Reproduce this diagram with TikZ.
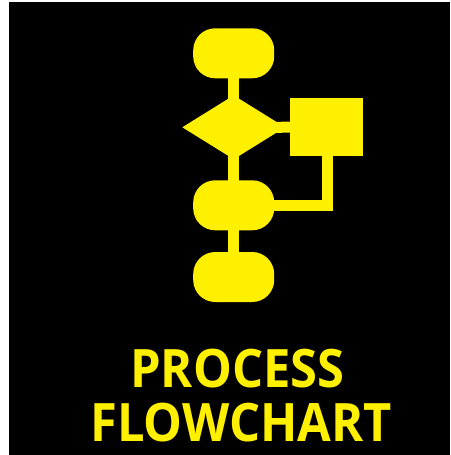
\documentclass[tikz,border=0pt]{standalone}
\usepackage{fontspec}
\setmainfont{Open Sans}
\newfontfamily\titlefont[FakeStretch=0.922]{Open Sans}
\usetikzlibrary{positioning,shapes.geometric}
\definecolor{chartyellow}{RGB}{255,240,0}
\tikzset{
  terminal/.style={fill=chartyellow,rounded corners=22pt,minimum width=81pt,minimum height=50pt,inner sep=0pt},
  decision/.style={fill=chartyellow,diamond,aspect=1.6,minimum width=103pt,minimum height=64pt,inner sep=0pt},
  procbox/.style={fill=chartyellow,minimum width=73.5pt,minimum height=58pt,inner sep=0pt},
  link/.style={draw=chartyellow,line width=11pt},
  title/.style={text=chartyellow,font=\titlefont\bfseries\fontsize{53}{57}\selectfont,inner sep=0pt,anchor=base}
}
\begin{document}
\begin{tikzpicture}[x=1pt,y=1pt]
  \useasboundingbox (0,0) rectangle (450,-455);
  \fill[white] (0,0) rectangle (450,-455);
  \fill[black] (9,-2) rectangle (450,-455);
  \node[terminal] (start) at (233.7,-53.3) {};
  \node[decision] (check) at (233.7,-127.3) {};
  \node[terminal] (merge) at (233.7,-205.3) {};
  \node[terminal] (stop) at (233.7,-277) {};
  \node[procbox] (work) at (326.7,-127.2) {};
  \coordinate (corner) at (327,-205.5);
  \draw[link] (start.center) -- (check.center);
  \draw[link] (check.center) -- (merge.center);
  \draw[link] (merge.center) -- (stop.center);
  \draw[link] (check.center) -- (work.center);
  \draw[link] (work.center -| corner) -- (corner) -- (merge.center |- corner);
  \node[title] (line1) at (237.3,-387) {PROCESS};
  \node[title] (line2) at (241.2,-441.5) {FLOWCHART};
\end{tikzpicture}
\end{document}
